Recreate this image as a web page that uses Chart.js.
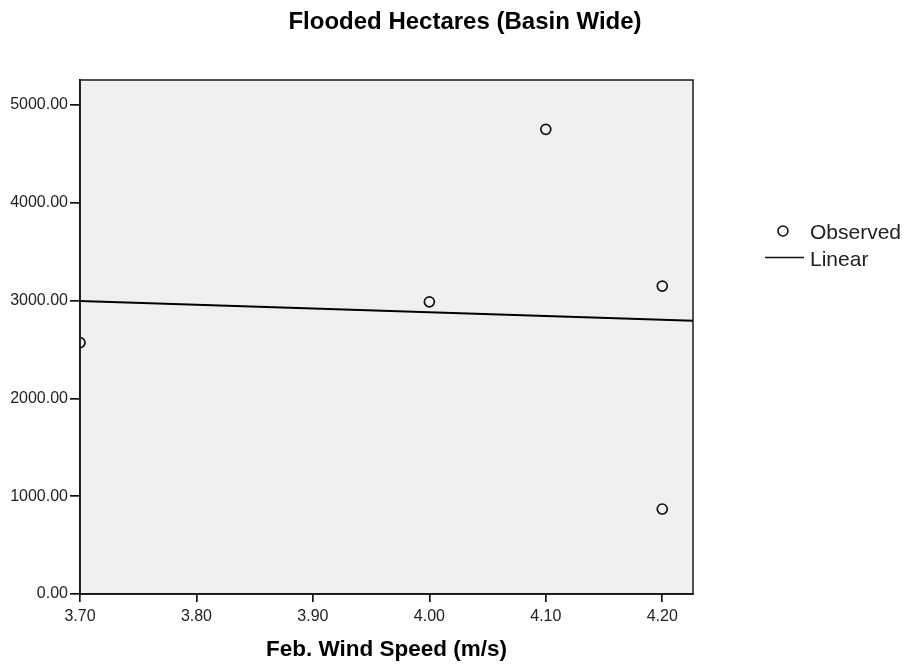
<!DOCTYPE html>
<html>
<head>
<meta charset="utf-8">
<script src="https://cdn.jsdelivr.net/npm/chart.js@4.4.1/dist/chart.umd.min.js"></script>
<style>
  body { margin: 0; background: #fff; }
  #wrap { width: 910px; height: 667px; }
</style>
</head>
<body>
<div id="wrap"><canvas id="grafico" width="910" height="667"></canvas></div>
<script>
// datos
const windSpeed = [3.70, 4.00, 4.10, 4.20, 4.20];
const hectares = [2570, 2988, 4752, 3149, 869];
// extremos de la recta "Linear"
const linearX = [3.70, 4.2264];
const linearY = [2995, 2795];
const xTicks = [3.70, 3.80, 3.90, 4.00, 4.10, 4.20];
const yTicks = [0, 1000, 2000, 3000, 4000, 5000];

const FONT = "Arial, 'Liberation Sans', sans-serif";

// fondo gris y marco del area de dibujo
const marco = {
  id: 'marco',
  beforeDraw(chart) {
    const a = chart.chartArea, ctx = chart.ctx;
    ctx.save();
    ctx.fillStyle = '#f0f0f0';
    ctx.fillRect(a.left, a.top, a.right - a.left, a.bottom - a.top);
    ctx.restore();
  },
  afterDraw(chart) {
    const a = chart.chartArea, ctx = chart.ctx;
    ctx.save();
    ctx.strokeStyle = '#1a1a1a';
    ctx.lineWidth = 1.5;
    ctx.strokeRect(a.left, a.top, a.right - a.left, a.bottom - a.top);

    // titulo
    ctx.fillStyle = '#000';
    ctx.font = 'bold 24px ' + FONT;
    ctx.textAlign = 'center';
    ctx.textBaseline = 'middle';
    ctx.fillText('Flooded Hectares (Basin Wide)', 465, 22);

    // leyenda
    const ds = chart.data.datasets;
    ctx.font = '21px ' + FONT;
    ctx.textAlign = 'left';
    ctx.fillStyle = '#222';
    ctx.beginPath();
    ctx.arc(783, 231, 5, 0, Math.PI * 2);
    ctx.lineWidth = 1.6;
    ctx.strokeStyle = '#111';
    ctx.stroke();
    ctx.fillText(ds[0].label, 810, 233);
    ctx.beginPath();
    ctx.moveTo(765, 257.5);
    ctx.lineTo(804, 257.5);
    ctx.lineWidth = 1.6;
    ctx.stroke();
    ctx.fillText(ds[1].label, 810, 260);
    ctx.restore();
  }
};

const cnv = document.getElementById('grafico');

new Chart(cnv, {
  type: 'scatter',
  data: {
    datasets: [
      {
        label: 'Observed',
        data: windSpeed.map((v, i) => ({ x: v, y: hectares[i] })),
        pointStyle: 'circle',
        pointRadius: 5,
        pointBorderWidth: 1.7,
        borderColor: '#111',
        backgroundColor: 'rgba(0,0,0,0)'
      },
      {
        label: 'Linear',
        type: 'line',
        data: linearX.map((v, i) => ({ x: v, y: linearY[i] })),
        showLine: true,
        pointRadius: 0,
        borderColor: '#000',
        borderWidth: 2,
        fill: false
      }
    ]
  },
  options: {
    responsive: false,
    animation: false,
    layout: { padding: { top: 80, right: 217, left: 0, bottom: 0 } },
    plugins: {
      legend: { display: false },
      title: { display: false },
      tooltip: { enabled: false }
    },
    scales: {
      x: {
        type: 'linear',
        min: 3.70,
        max: 4.2264,
        afterBuildTicks: s => { s.ticks = xTicks.map(v => ({ value: v })); },
        afterFit: s => { s.height = 73; },
        grid: { drawOnChartArea: false, drawTicks: true, tickLength: 8, color: '#111', lineWidth: 1.7 },
        border: { display: true, color: '#111', width: 1.7 },
        ticks: {
          color: '#222',
          padding: 5,
          maxRotation: 0,
          font: { family: FONT, size: 16 },
          callback: v => Number(v).toFixed(2)
        },
        title: {
          display: true,
          text: 'Feb. Wind Speed (m/s)',
          color: '#000',
          font: { family: FONT, size: 22.5, weight: 'bold' },
          padding: { top: 0, bottom: 4 }
        }
      },
      y: {
        min: 0,
        max: 5256,
        afterBuildTicks: s => { s.ticks = yTicks.map(v => ({ value: v })); },
        afterFit: s => { s.width = 80; },
        grid: { drawOnChartArea: false, drawTicks: true, tickLength: 10, color: '#111', lineWidth: 1.7 },
        border: { display: true, color: '#111', width: 1.7 },
        ticks: {
          color: '#222',
          padding: 2,
          font: { family: FONT, size: 16 },
          callback: v => Number(v).toFixed(2)
        }
      }
    }
  },
  plugins: [marco]
});
</script>
</body>
</html>
